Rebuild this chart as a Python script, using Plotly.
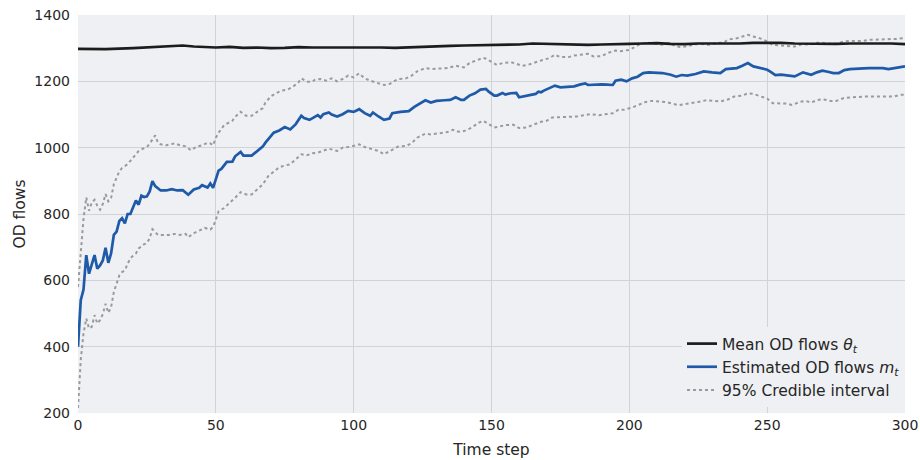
import plotly.graph_objects as go

# ---- data ----
mean_t = [0, 10, 20, 25, 30, 35, 38, 42, 46, 50,
          55, 60, 65, 70, 75, 80, 85, 90, 95, 100,
          105, 110, 115, 120, 125, 130, 135, 140, 145, 150,
          155, 160, 165, 170, 175, 180, 185, 190, 195, 200,
          205, 210, 215, 220, 225, 230, 235, 240, 245, 250,
          255, 260, 265, 270, 275, 280, 285, 290, 295, 300]
mean_v = [1298, 1297, 1300, 1302, 1304, 1306, 1308, 1305, 1303, 1302,
          1304, 1301, 1302, 1300, 1301, 1303, 1302, 1301, 1302, 1302,
          1303, 1302, 1301, 1303, 1304, 1306, 1307, 1308, 1309, 1308,
          1310, 1311, 1314, 1313, 1312, 1310, 1310, 1311, 1311, 1313,
          1314, 1315, 1313, 1312, 1314, 1314, 1313, 1314, 1316, 1317,
          1316, 1314, 1313, 1314, 1313, 1314, 1315, 1314, 1314, 1312]

est_t = [0, 1, 2, 3, 4, 5, 6, 7, 8, 9,
         10, 11, 12, 13, 14, 15, 16, 17, 18, 19,
         20, 21, 22, 23, 24, 25, 26, 27, 28, 30,
         32, 34, 36, 38, 40, 42, 44, 45, 47, 48,
         49, 50, 51, 52, 54, 56, 57, 59, 60, 63,
         65, 67, 68, 70, 71, 73, 75, 77, 79, 81,
         82, 84, 86, 87, 88, 89, 91, 92, 94, 96,
         98, 100, 102, 104, 106, 107, 109, 111, 113, 114,
         117, 120, 122, 124, 126, 128, 130, 133, 135, 137,
         139, 140, 142, 144, 146, 148, 149, 151, 152, 154,
         155, 157, 159, 160, 162, 164, 166, 167, 168, 169,
         171, 173, 175, 177, 180, 182, 184, 185, 187, 190,
         192, 194, 195, 197, 199, 201, 203, 205, 207, 210,
         212, 215, 217, 219, 221, 224, 227, 230, 233, 235,
         239, 241, 243, 245, 248, 250, 251, 253, 255, 258,
         260, 263, 264, 266, 268, 270, 272, 274, 276, 278,
         280, 282, 285, 287, 290, 292, 294, 296, 298, 300]
est_v = [400, 540, 572, 676, 620, 650, 676, 635, 645, 660,
         698, 653, 681, 737, 747, 779, 787, 772, 800, 800,
         818, 841, 828, 855, 851, 853, 868, 899, 884, 871,
         871, 875, 871, 872, 858, 874, 879, 887, 880, 892,
         879, 904, 931, 936, 957, 958, 974, 987, 976, 976,
         990, 1003, 1015, 1037, 1045, 1052, 1062, 1055, 1071, 1096,
         1089, 1084, 1093, 1098, 1091, 1101, 1106, 1100, 1094, 1101,
         1111, 1108, 1116, 1104, 1096, 1106, 1094, 1084, 1088, 1104,
         1108, 1110, 1123, 1134, 1143, 1136, 1141, 1143, 1144, 1152,
         1144, 1144, 1157, 1164, 1175, 1177, 1169, 1157, 1157, 1165,
         1160, 1164, 1165, 1152, 1155, 1159, 1162, 1169, 1167, 1172,
         1180, 1187, 1182, 1184, 1185, 1190, 1194, 1189, 1190, 1191,
         1190, 1189, 1202, 1205, 1200, 1209, 1214, 1225, 1227, 1226,
         1225, 1220, 1214, 1219, 1217, 1222, 1230, 1227, 1225, 1237,
         1240, 1247, 1255, 1245, 1240, 1235, 1230, 1219, 1220, 1217,
         1215, 1227, 1225, 1220, 1227, 1232, 1229, 1225, 1225, 1234,
         1237, 1237, 1239, 1240, 1240, 1240, 1237, 1240, 1242, 1245]

up_t = [0, 1, 2, 3, 4, 5, 6, 7, 8, 9,
        10, 11, 12, 13, 14, 15, 16, 17, 18, 19,
        20, 21, 22, 23, 24, 25, 26, 27, 28, 29,
        30, 32, 34, 35, 37, 39, 41, 43, 45, 47,
        48, 49, 50, 51, 53, 56, 57, 59, 61, 63,
        65, 67, 68, 70, 72, 74, 76, 78, 80, 81,
        83, 85, 86, 88, 90, 92, 94, 96, 98, 100,
        102, 104, 106, 109, 111, 113, 116, 119, 121, 123,
        126, 128, 131, 134, 137, 140, 142, 145, 147, 148,
        150, 152, 154, 157, 159, 161, 163, 166, 168, 171,
        173, 175, 178, 180, 183, 185, 187, 190, 192, 195,
        197, 200, 202, 204, 207, 209, 212, 214, 217, 219,
        221, 225, 229, 232, 234, 236, 239, 241, 243, 245,
        248, 250, 252, 255, 258, 260, 263, 265, 268, 270,
        273, 275, 278, 280, 282, 285, 287, 290, 292, 295,
        297, 300]
up_v = [580, 690, 785, 850, 810, 835, 843, 825, 813, 830,
        860, 838, 848, 890, 909, 929, 939, 944, 950, 960,
        970, 978, 990, 995, 999, 1002, 1012, 1025, 1037, 1015,
        1010, 1007, 1012, 1013, 1007, 1004, 992, 1003, 1007, 1015,
        1013, 1007, 1030, 1045, 1068, 1081, 1093, 1108, 1096, 1096,
        1108, 1119, 1136, 1155, 1165, 1172, 1175, 1184, 1197, 1209,
        1199, 1199, 1205, 1207, 1202, 1209, 1200, 1207, 1217, 1212,
        1224, 1209, 1202, 1194, 1189, 1192, 1207, 1209, 1217, 1230,
        1240, 1237, 1239, 1240, 1247, 1242, 1255, 1265, 1271, 1268,
        1258, 1249, 1255, 1258, 1253, 1247, 1249, 1258, 1263, 1270,
        1280, 1273, 1273, 1278, 1280, 1283, 1275, 1276, 1285, 1293,
        1291, 1295, 1303, 1313, 1316, 1313, 1310, 1315, 1306, 1303,
        1306, 1313, 1310, 1316, 1316, 1326, 1330, 1336, 1340, 1335,
        1328, 1320, 1310, 1308, 1306, 1305, 1313, 1310, 1316, 1316,
        1313, 1313, 1321, 1321, 1321, 1322, 1325, 1326, 1326, 1328,
        1328, 1331]

lo_t = [0, 1, 2, 3, 4, 5, 6, 7, 8, 9,
        10, 11, 12, 13, 14, 15, 16, 17, 18, 19,
        20, 21, 22, 23, 24, 25, 26, 27, 28, 29,
        31, 33, 35, 37, 39, 40, 42, 44, 46, 48,
        49, 50, 51, 53, 55, 57, 59, 61, 63, 65,
        67, 69, 71, 73, 75, 77, 79, 81, 83, 85,
        87, 89, 91, 94, 96, 99, 102, 104, 107, 109,
        111, 113, 116, 119, 121, 123, 126, 128, 131, 134,
        136, 138, 140, 143, 145, 147, 148, 151, 153, 155,
        158, 160, 163, 165, 168, 170, 172, 175, 178, 181,
        184, 186, 189, 191, 194, 196, 198, 201, 203, 206,
        208, 211, 213, 215, 218, 220, 222, 225, 228, 231,
        233, 236, 238, 241, 243, 245, 248, 250, 252, 255,
        257, 259, 262, 264, 266, 268, 270, 273, 275, 278,
        281, 285, 288, 292, 296, 298, 300]
lo_v = [215, 360, 440, 485, 455, 460, 495, 470, 480, 498,
        529, 502, 519, 565, 590, 615, 625, 630, 650, 666,
        675, 681, 696, 704, 709, 712, 727, 754, 745, 737,
        737, 737, 740, 737, 740, 730, 742, 751, 758, 753,
        761, 783, 808, 818, 833, 849, 866, 859, 859, 874,
        889, 914, 929, 941, 946, 950, 965, 980, 977, 983,
        985, 992, 997, 990, 1000, 1003, 1010, 1002, 995, 990,
        980, 990, 1003, 1005, 1013, 1030, 1042, 1040, 1043, 1047,
        1054, 1048, 1050, 1061, 1074, 1081, 1076, 1061, 1064, 1068,
        1069, 1059, 1061, 1069, 1078, 1081, 1091, 1091, 1093, 1094,
        1099, 1101, 1098, 1101, 1104, 1114, 1114, 1121, 1128, 1138,
        1141, 1139, 1138, 1134, 1128, 1131, 1133, 1138, 1143, 1141,
        1139, 1146, 1154, 1157, 1164, 1162, 1155, 1148, 1134, 1134,
        1133, 1129, 1138, 1141, 1136, 1143, 1146, 1141, 1141, 1150,
        1152, 1154, 1154, 1154, 1154, 1159, 1160]

x_ticks = [0, 50, 100, 150, 200, 250, 300]
y_ticks = [200, 400, 600, 800, 1000, 1200, 1400]

# ---- styling ----
FONT = "DejaVu Sans"
BG = "#EEF0F3"
GRID = "#D2D3D6"
BLACK = "#1C1C1C"
BLUE = "#1F5AA8"
GRAY = "#9A9A9A"

fig = go.Figure()

fig.add_trace(go.Scatter(x=up_t, y=up_v, mode="lines",
                         line=dict(color=GRAY, width=2, dash="dot"),
                         name="95% Credible interval", legendgroup="ci",
                         legendrank=3, showlegend=True))
fig.add_trace(go.Scatter(x=lo_t, y=lo_v, mode="lines",
                         line=dict(color=GRAY, width=2, dash="dot"),
                         name="95% Credible interval", legendgroup="ci",
                         showlegend=False))
fig.add_trace(go.Scatter(x=mean_t, y=mean_v, mode="lines",
                         line=dict(color=BLACK, width=2.7),
                         name="Mean OD flows <i>θ</i><sub><i>t</i></sub>",
                         legendrank=1))
fig.add_trace(go.Scatter(x=est_t, y=est_v, mode="lines",
                         line=dict(color=BLUE, width=2.7),
                         name="Estimated OD flows <i>m</i><sub><i>t</i></sub>",
                         legendrank=2))

fig.update_layout(
    width=920, height=460,
    margin=dict(l=78, r=15, t=15, b=47, autoexpand=False),
    paper_bgcolor="white",
    plot_bgcolor=BG,
    font=dict(family=FONT, size=14, color="#262626"),
    legend=dict(x=1, xanchor="right", y=0.015, yanchor="bottom",
                bgcolor=BG, borderwidth=0,
                font=dict(family=FONT, size=15.5, color="#262626"),
                traceorder="normal"),
)
fig.update_xaxes(range=[0, 300], tickvals=x_ticks, showgrid=True,
                 gridcolor=GRID, gridwidth=1, zeroline=False, showline=False,
                 ticks="", ticklen=0, automargin=False, ticklabelstandoff=2,
                 tickfont=dict(size=14),
                 title=dict(text="Time step", font=dict(size=15.5), standoff=12))
fig.update_yaxes(range=[200, 1400], tickvals=y_ticks, showgrid=True,
                 gridcolor=GRID, gridwidth=1, zeroline=False, showline=False,
                 ticks="", ticklen=0, automargin=False, ticklabelstandoff=7,
                 tickfont=dict(size=14),
                 title=dict(text="OD flows", font=dict(size=15.5), standoff=4))

# remove the page's default 8px body margin so the figure sits at (0, 0)
fig.write_html("out.html",
               config={"displayModeBar": False},
               post_script="document.body.style.margin='0px';"
                           "document.body.style.overflow='hidden';")
